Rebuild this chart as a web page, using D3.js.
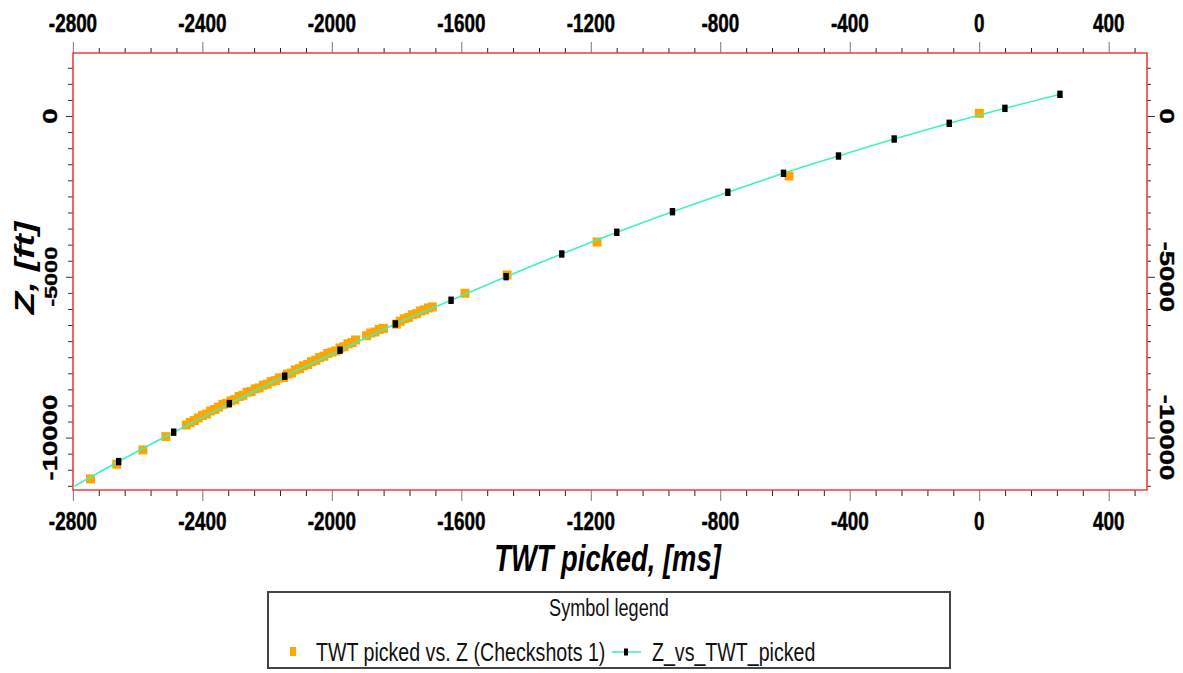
<!DOCTYPE html>
<html lang="en">
<head>
<meta charset="utf-8">
<script src="https://d3js.org/d3.v7.min.js"></script>
<title>TWT picked vs. Z</title>
<style>
  body { margin: 0; background: #fff; }
  svg { display: block; }
  line, path, rect.frame { vector-effect: non-scaling-stroke; }
  text.tick { stroke: #000; stroke-width: 0.5px; }
</style>
</head>
<body>
<div id="chart"></div>
<script>
// Checkshots 1 : TWT picked [ms] vs Z [ft]
var checkshotTwt = [-2746, -2665, -2584, -2513, -2450, -2438, -2425, -2413, -2400, -2388, -2375, -2362,
  -2350, -2337, -2325, -2312, -2300, -2287, -2275, -2262, -2250, -2237, -2225, -2212, -2200, -2188,
  -2175, -2163, -2150, -2138, -2125, -2113, -2100, -2088, -2075, -2063, -2050, -2038, -2025, -2013,
  -2000, -1988, -1975, -1963, -1950, -1938, -1927, -1893, -1880, -1867, -1854, -1841, -1801, -1789,
  -1776, -1764, -1751, -1739, -1726, -1714, -1702, -1690, -1589, -1459, -1181, -588, 0];
var checkshotZ = [-11284, -10827, -10382, -9969, -9610, -9528, -9471, -9389, -9312, -9270, -9173, -9126,
  -9053, -8966, -8934, -8858, -8818, -8723, -8684, -8589, -8569, -8484, -8455, -8370, -8340, -8260,
  -8226, -8146, -8131, -8023, -7992, -7895, -7854, -7767, -7725, -7639, -7597, -7511, -7469, -7383,
  -7341, -7304, -7213, -7176, -7083, -7046, -6964, -6831, -6749, -6717, -6635, -6603, -6473, -6382,
  -6306, -6265, -6179, -6147, -6062, -6030, -5969, -5937, -5511, -4943, -3917, -1865, 84];

// Z_vs_TWT_picked markers
var markerTwt = [-2659, -2489, -2317, -2146, -1975, -1804, -1632, -1462, -1290, -1120, -948, -777,
  -605, -435, -263, -93, 79, 249];
var markerZ = [-10746, -9832, -8943, -8091, -7283, -6466, -5729, -4995, -4290, -3615, -2975, -2372,
  -1781, -1243, -715, -227, 239, 675];
// the curve starts at the left edge of the plot
var curveStartTwt = [-2800];
var curveStartZ = [-11540];

var xTickLabels = [-2800, -2400, -2000, -1600, -1200, -800, -400, 0, 400];
var yTickLabels = [0, -5000, -10000];

var legendNames = ["TWT picked vs. Z (Checkshots 1)", "Z_vs_TWT_picked"];

// the picture is squeezed horizontally, so draw in a wider space and scale x
var k = 0.74;
var W = 1183, H = 673;
var font = "'Liberation Sans', Arial, sans-serif";
var cyan = "#3ef2c4", orange = "#ffa500", red = "#f03c3c";

var svg = d3.select("#chart").append("svg")
  .attr("width", W)
  .attr("height", H);
var g = svg.append("g").attr("transform", "scale(" + k + ",1)");

var x = d3.scaleLinear().domain([-2800, 518]).range([73 / k, 1147 / k]);
var y = d3.scaleLinear().domain([1960, -11630]).range([53, 490]);

var x0 = x.range()[0], x1 = x.range()[1];
var y0 = y.range()[0], y1 = y.range()[1];

// minor / major tick values
var xMinor = d3.range(-2800, 519, 80).filter(d => d % 400 !== 0);
var yMinor = d3.range(1500, -11631, -500).filter(d => d % 5000 !== 0);
var yMajor = [0, -5000, -10000];

function addAxis(axis, tx, ty, color) {
  var a = g.append("g")
    .attr("transform", "translate(" + tx + "," + ty + ")")
    .call(axis.tickFormat(""));
  a.select(".domain").remove();
  a.selectAll("line").attr("stroke", color).attr("stroke-width", 1);
}

// top + bottom ticks
addAxis(d3.axisTop(x).tickValues(xMinor).tickSize(5), 0, y0, "#222");
addAxis(d3.axisTop(x).tickValues(xTickLabels).tickSize(11), 0, y0, "#777");
addAxis(d3.axisBottom(x).tickValues(xMinor).tickSize(6), 0, y1, "#222");
addAxis(d3.axisBottom(x).tickValues(xTickLabels).tickSize(11), 0, y1, "#777");
// left + right ticks
addAxis(d3.axisLeft(y).tickValues(yMinor).tickSize(5 / k), x0, 0, "#333");
addAxis(d3.axisLeft(y).tickValues(yMajor).tickSize(7 / k), x0, 0, "#333");
addAxis(d3.axisRight(y).tickValues(yMinor).tickSize(4 / k), x1, 0, "#333");
addAxis(d3.axisRight(y).tickValues(yMajor).tickSize(8 / k), x1, 0, "#333");

// plot frame
g.append("rect")
  .attr("class", "frame")
  .attr("x", x0).attr("y", y0)
  .attr("width", x1 - x0).attr("height", y1 - y0)
  .attr("fill", "none")
  .attr("stroke", red)
  .attr("stroke-width", 1.6);

// tick labels
g.selectAll(".xtop").data(xTickLabels).join("text")
  .attr("class", "tick xtop")
  .attr("x", d => x(d)).attr("y", 31.7)
  .attr("text-anchor", "middle")
  .style("font-family", font).style("font-weight", "bold").style("font-size", "25.5px")
  .text(d => d);
g.selectAll(".xbot").data(xTickLabels).join("text")
  .attr("class", "tick xbot")
  .attr("x", d => x(d)).attr("y", 530)
  .attr("text-anchor", "middle")
  .style("font-family", font).style("font-weight", "bold").style("font-size", "25.5px")
  .text(d => d);
g.selectAll(".yleft").data(yTickLabels).join("text")
  .attr("class", "tick yleft")
  .attr("transform", d => "translate(" + (57 / k) + "," + y(d) + ") rotate(-90)")
  .attr("text-anchor", "middle")
  .style("font-family", font).style("font-weight", "bold")
  .style("font-size", d => d === -5000 ? "23.5px" : "27.5px")
  .text(d => d);
g.selectAll(".yright").data(yTickLabels).join("text")
  .attr("class", "tick yright")
  .attr("transform", d => "translate(" + (1160 / k) + "," + y(d) + ") rotate(90)")
  .attr("text-anchor", "middle")
  .style("font-family", font).style("font-weight", "bold").style("font-size", "27.5px")
  .text(d => d);

// axis titles
g.append("text")
  .attr("x", 607.5 / k).attr("y", 571)
  .attr("text-anchor", "middle")
  .style("font-family", font).style("font-weight", "bold").style("font-style", "italic")
  .style("font-size", "37px")
  .text("TWT picked, [ms]");
g.append("text")
  .attr("transform", "translate(" + (34 / k) + ",268) rotate(-90)")
  .attr("text-anchor", "middle")
  .style("font-family", font).style("font-weight", "bold").style("font-style", "italic")
  .style("font-size", "37px")
  .text("Z, [ft]");

// checkshot squares
var sq = 9;
g.selectAll(".cs").data(checkshotTwt).join("rect")
  .attr("class", "cs")
  .attr("x", d => x(d) - sq / 2 / k)
  .attr("y", (d, i) => y(checkshotZ[i]) - sq / 2)
  .attr("width", sq / k).attr("height", sq)
  .attr("fill", orange);

// curve through the markers
var curvePts = curveStartTwt.map((t, i) => [t, curveStartZ[i]])
  .concat(markerTwt.map((t, i) => [t, markerZ[i]]));
var line = d3.line()
  .x(d => x(d[0]))
  .y(d => y(d[1]))
  .curve(d3.curveMonotoneX);
g.append("path")
  .attr("d", line(curvePts))
  .attr("fill", "none")
  .attr("stroke", cyan)
  .attr("stroke-width", 1.6);

// black markers
g.selectAll(".mk").data(markerTwt).join("rect")
  .attr("class", "mk")
  .attr("x", d => x(d) - 2.7 / k)
  .attr("y", (d, i) => y(markerZ[i]) - 3.7)
  .attr("width", 5.4 / k).attr("height", 7.4)
  .attr("fill", "#000");

// legend
var lg = g.append("g");
lg.append("rect")
  .attr("class", "frame")
  .attr("x", 268 / k).attr("y", 592)
  .attr("width", (950 - 268) / k).attr("height", 76)
  .attr("fill", "#fff")
  .attr("stroke", "#444")
  .attr("stroke-width", 2);
lg.append("text")
  .attr("x", 609 / k).attr("y", 616)
  .attr("text-anchor", "middle")
  .style("font-family", font).style("font-size", "24.5px").attr("fill", "#111")
  .text("Symbol legend");
lg.append("rect")
  .attr("x", (293 - 3) / k).attr("y", 647)
  .attr("width", 6 / k).attr("height", 9)
  .attr("fill", orange);
lg.append("text")
  .attr("x", 316 / k).attr("y", 661)
  .style("font-family", font).style("font-size", "26.5px").attr("fill", "#111")
  .text(legendNames[0]);
lg.append("line")
  .attr("x1", 612 / k).attr("x2", 641 / k)
  .attr("y1", 652).attr("y2", 652)
  .attr("stroke", cyan).attr("stroke-width", 1.6);
lg.append("rect")
  .attr("x", (626 - 2) / k).attr("y", 648.5)
  .attr("width", 4 / k).attr("height", 7)
  .attr("fill", "#000");
lg.append("text")
  .attr("x", 652 / k).attr("y", 661)
  .style("font-family", font).style("font-size", "26.5px").attr("fill", "#111")
  .text(legendNames[1]);
</script>
</body>
</html>
